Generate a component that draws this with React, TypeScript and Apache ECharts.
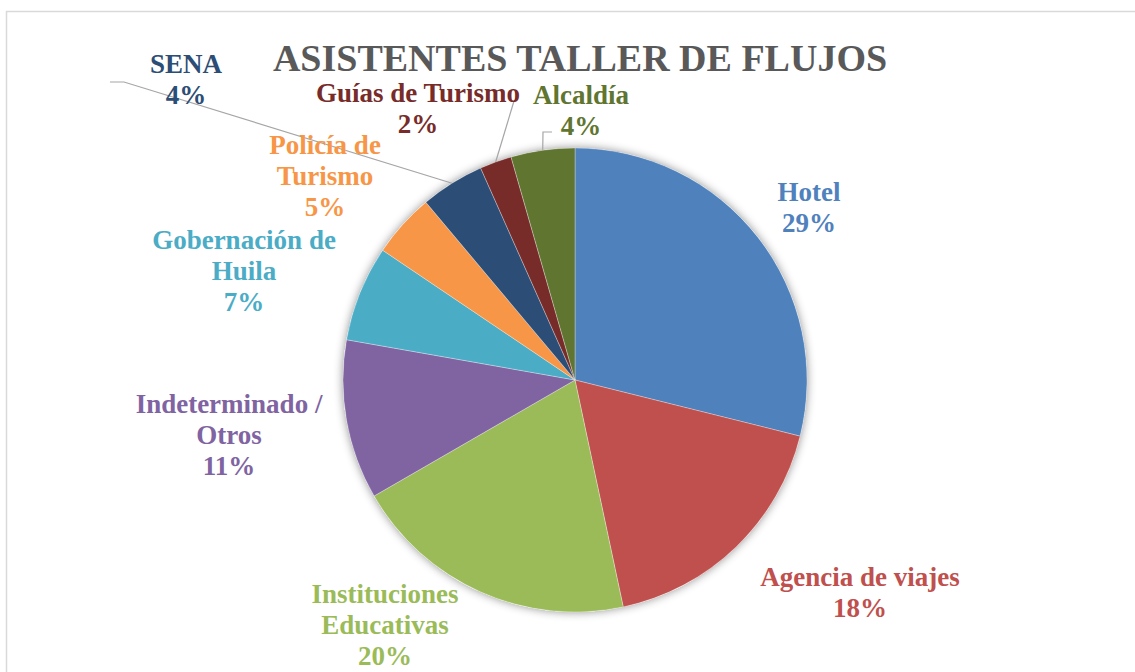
import { useEffect, useRef } from "react";
import * as echarts from "echarts";

const titleText = "ASISTENTES TALLER DE FLUJOS";
const categories = [
  "Hotel",
  "Agencia de viajes",
  "Instituciones\nEducativas",
  "Indeterminado /\nOtros",
  "Gobernación de\nHuila",
  "Policía de\nTurismo",
  "SENA",
  "Guías de Turismo",
  "Alcaldía",
];
const attendees = [13, 8, 9, 5, 3, 2, 2, 1, 2];
const shownPercents = [29, 18, 20, 11, 7, 5, 4, 2, 4];
const sliceColors = [
  "#4F81BD",
  "#C0504D",
  "#9BBB59",
  "#8064A2",
  "#4BACC6",
  "#F79646",
  "#2C4D75",
  "#772C2A",
  "#5F7530",
];

// label placement (layout, not data)
const labelCenters: [number, number][] = [
  [809, 207],
  [860, 592],
  [385, 625],
  [229, 435],
  [244, 271],
  [325, 176],
  [186, 79],
  [418, 108],
  [581, 110],
];
const leaderBends: Record<number, [number, number][]> = {
  6: [
    [124, 82],
    [110, 82],
  ],
  7: [
    [514, 101],
    [514, 101],
  ],
  8: [
    [543, 132],
    [552, 132],
  ],
};

export default function App() {
  const ref = useRef<HTMLDivElement>(null);
  useEffect(() => {
    if (!ref.current) return;
    const chart = echarts.init(ref.current, undefined, { renderer: "svg" });
    const total = attendees.reduce((a, b) => a + b, 0);
    chart.setOption({
      animation: false,
      backgroundColor: "#ffffff",
      title: {
        text: titleText,
        left: 575,
        top: 34,
        textAlign: "center",
        textStyle: {
          fontFamily: "Liberation Serif",
          fontWeight: "bold",
          fontSize: 38,
          color: "#595959",
        },
      },
      graphic: [
        {
          type: "rect",
          left: 4,
          top: 9,
          shape: { width: 1300, height: 800 },
          style: { fill: "none", stroke: "#D9D9D9", lineWidth: 1.5 },
          silent: true,
        },
      ],
      series: [
        {
          type: "pie",
          center: [575, 380],
          radius: 232,
          silent: true,
          z: 1,
          label: { show: false },
          labelLine: { show: false },
          data: [
            {
              value: total,
              itemStyle: {
                color: "#ffffff",
                shadowBlur: 10,
                shadowColor: "rgba(0,0,0,0.45)",
              },
            },
          ],
        },
        {
          type: "pie",
          center: [575, 380],
          radius: 232,
          startAngle: 90,
          z: 2,
          avoidLabelOverlap: false,
          itemStyle: { borderColor: "rgba(255,255,255,0.5)", borderWidth: 0.6 },
          label: {
            show: true,
            position: "outside",
            fontFamily: "Liberation Serif",
            fontWeight: "bold",
            fontSize: 27,
            lineHeight: 31,
            align: "center",
            formatter: (p: any) => `${p.name}\n${shownPercents[p.dataIndex]}%`,
          },
          labelLine: {
            show: false,
            lineStyle: { color: "#A6A6A6", width: 1.2 },
          },
          emphasis: { disabled: true },
          labelLayout: (params: any) => {
            const i = params.dataIndex;
            const [x, y] = labelCenters[i];
            const out: any = { x, y, align: "center", verticalAlign: "middle" };
            const bends = leaderBends[i];
            if (bends && params.labelLinePoints) {
              out.labelLinePoints = [params.labelLinePoints[0], ...bends];
            }
            return out;
          },
          data: categories.map((name, i) => ({
            name,
            value: attendees[i],
            itemStyle: { color: sliceColors[i] },
            label: { color: sliceColors[i] },
            labelLine: { show: leaderBends[i] !== undefined },
          })),
        },
      ],
    });
    return () => chart.dispose();
  }, []);
  return (
    <div
      ref={ref}
      style={{ position: "fixed", left: 0, top: 0, width: 1135, height: 672 }}
    />
  );
}
